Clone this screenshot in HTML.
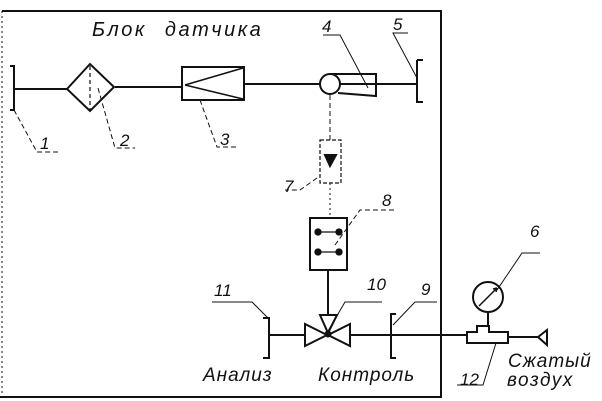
<!DOCTYPE html>
<html><head><meta charset="utf-8"><style>body{margin:0;background:#fff}svg{display:block}</style></head><body>
<svg width="602" height="401" viewBox="0 0 602 401" xmlns="http://www.w3.org/2000/svg" font-family="Liberation Sans, sans-serif" font-style="italic" fill="none" stroke="#111" stroke-width="2">
<path d="M2 11 H441 V397 H0"/>
<path d="M2 11 V397" stroke-dasharray="2 3" stroke-width="1"/>
<text x="92" y="36" font-size="20" letter-spacing="2.5" word-spacing="10" fill="#111" stroke="none">Блок датчика</text>
<path d="M10 66 H14 V110 H10 M14 89 H67 M115 87 H182 M244 84 H320 M340 84 H417 M417 60 H423 M417 60 V102 H423"/>
<path d="M67 89 L90 64 L114 87 L90 111 Z"/>
<path d="M90 66 V110" stroke-dasharray="4 3" stroke-width="1.2"/>
<rect x="182" y="67" width="62" height="33"/>
<path d="M185 85 L243 68 M185 85 L243 99" stroke-width="1.5"/>
<circle cx="330" cy="84" r="10"/>
<path d="M330 74 H376 V96 L338 93"/>
<g stroke-width="1" stroke-dasharray="5 3">
<path d="M14 110 L37 152 H58"/><path d="M98 88 L115 148 H135"/><path d="M200 100 L217 147 H237"/>
<path d="M368 88 L340 35 H323" stroke-dasharray="none"/><path d="M417 78 L393 33 H408" stroke-dasharray="none"/>
<path d="M330 95 V140"/><path d="M330 183 V218" stroke-dasharray="2 3"/>
<path d="M317 178 L300 190 H285"/><path d="M335 245 L360 210 H397"/>
</g>
<g font-size="17" fill="#111" stroke="none">
<text x="40" y="149">1</text><text x="120" y="146">2</text><text x="220" y="145">3</text>
<text x="322" y="32">4</text><text x="393" y="30">5</text><text x="284" y="192">7</text>
<text x="382" y="206">8</text><text x="530" y="237">6</text><text x="367" y="290">10</text>
<text x="421" y="295">9</text><text x="214" y="296">11</text><text x="460" y="385">12</text>
</g>
<rect x="320" y="140" width="21" height="43" stroke-width="1.2" stroke-dasharray="4 2"/>
<path d="M325 155 H336 L330 166 Z" fill="#111"/>
<rect x="310" y="218" width="37" height="52"/>
<g fill="#111" stroke-width="1.3"><circle cx="318" cy="232" r="3"/><circle cx="339" cy="232" r="3"/><circle cx="318" cy="252" r="3"/><circle cx="339" cy="252" r="3"/><path d="M318 232 H339 M318 252 H339"/></g>
<path d="M328 270 V315"/>
<path d="M305 324 L327 335 L305 346 Z M350 324 L328 335 L350 346 Z M320 315 H337 L328 333 Z"/>
<circle cx="328" cy="334" r="2.5" fill="#111"/>
<path d="M263 318 H269 V358 H263 M269 335 H305 M350 335 H468 M396 314 H391 V358 H396"/>
<path d="M269 319 L252 302 H212 M393 325 L415 302 H437" stroke-width="1"/>
<path d="M328 331 L345 302 H382" stroke-width="1"/>
<path d="M467 332 H477 V326 H489 V332 H508 V343 H467 Z M508 337 H538 M538 337 L547 330 V345 Z"/>
<path d="M488 326 V312"/><circle cx="488" cy="297" r="15"/>
<path d="M479 306 L497 288 M497 288 L493 289 M497 288 L496 292" stroke-width="1.5"/>
<path d="M497 290 L522 253 H540 M496 343 L483 385 H457" stroke-width="1"/>
<g font-size="19" fill="#111" stroke="none">
<text x="203" y="381" letter-spacing="1">Анализ</text><text x="318" y="381" letter-spacing="1">Контроль</text>
<text x="508" y="367" letter-spacing="1">Сжатый</text><text x="507" y="386" letter-spacing="1.5">воздух</text>
</g>
</svg>
</body></html>
